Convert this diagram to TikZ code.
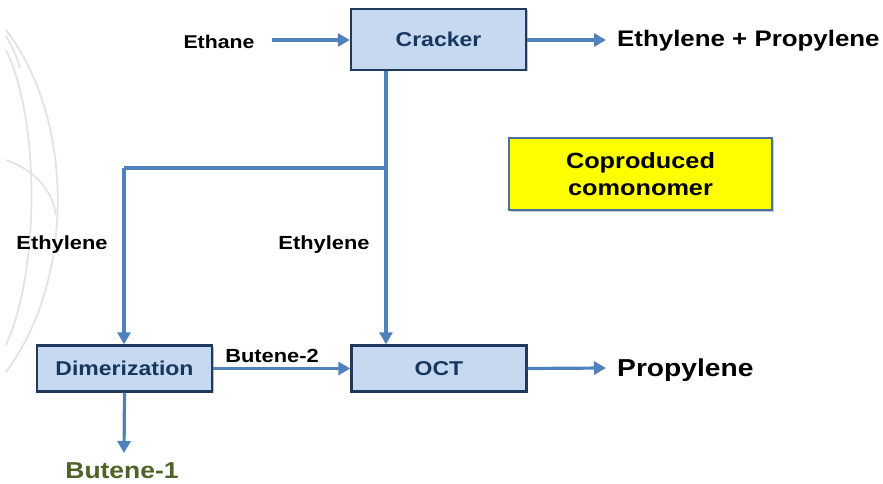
\documentclass[tikz,border=0pt]{standalone}
\usepackage{fontspec}
\setmainfont{Liberation Sans}[FakeStretch=1.15]
\usetikzlibrary{arrows.meta,shadows}
\definecolor{flow}{HTML}{4F81BD}
\definecolor{boxfill}{HTML}{C6D9F1}
\definecolor{boxedge}{HTML}{1F3A5C}
\definecolor{boxtext}{HTML}{17375E}
\definecolor{olive}{HTML}{4F6228}
\definecolor{note}{HTML}{FFFF00}
\definecolor{noteedge}{HTML}{4A6E9E}
\tikzset{
  unitbox/.style={draw=boxedge, line width=2.4pt, fill=boxfill,
    minimum width=175pt, minimum height=46pt, inner sep=0pt,
    text=boxtext, font=\bfseries\fontsize{20}{22}\selectfont,
    drop shadow={shadow xshift=1.5pt, shadow yshift=-1.5pt, opacity=0.5}},
  notebox/.style={draw=noteedge, line width=2.4pt, fill=note,
    minimum width=263pt, minimum height=72pt, inner sep=0pt, align=center,
    font=\bfseries\fontsize{22}{27}\selectfont,
    drop shadow={shadow xshift=2pt, shadow yshift=-2pt, opacity=0.4}},
  flowline/.style={draw=flow, line width=3.2pt},
  flowarrow/.style={flowline, -{Triangle[length=12pt,width=13pt]}},
  lbl/.style={font=\bfseries\fontsize{19}{22}\selectfont, inner sep=0pt},
  arc/.style={draw=gray!22, line width=1.8pt}
}
\begin{document}
\begin{tikzpicture}[x=1pt,y=-1pt]
\useasboundingbox (0,0) rectangle (883,484);
% faint background sweeps
\draw[arc] (6,30) .. controls (75,120) and (75,280) .. (6,372);
\draw[arc] (6,50) .. controls (40,120) and (40,270) .. (6,345);
\draw[arc] (6,160) .. controls (35,170) and (52,190) .. (56,215);
\draw[arc] (6,36) .. controls (14,50) and (18,60) .. (20,68);

% process units
\node[unitbox, minimum height=61pt] (cracker) at (438.5,39.5) {Cracker};
\node[unitbox] (dimer) at (124.5,368.5) {Dimerization};
\node[unitbox] (oct) at (439,368.5) {OCT};
\node[notebox] (note) at (640.5,174) {Coproduced\\comonomer};

% stream labels
\node[lbl, font=\bfseries\fontsize{18.5}{22}\selectfont] (ethane) at (219,42) {Ethane};
\node[lbl, anchor=west, font=\bfseries\fontsize{22.5}{26}\selectfont] (ep) at (617,41) {Ethylene + Propylene};
\node[lbl] (eth1) at (62,244.5) {Ethylene};
\node[lbl] (eth2) at (324,244.5) {Ethylene};
\node[lbl] (but2) at (272,356) {Butene-2};
\node[lbl, anchor=west, font=\bfseries\fontsize{24.5}{28}\selectfont] (prop) at (617,370) {Propylene};
\node[lbl, text=olive, font=\bfseries\fontsize{23}{26}\selectfont] (but1) at (122,471) {Butene-1};

% connectors
\coordinate (ethin) at (272,40);
\coordinate (epout) at (606,40);
\coordinate (split) at (386,168);
\coordinate (leftturn) at (124,168);
\coordinate (propout) at (606,368);
\coordinate (but1out) at (124,453);

\draw[flowarrow] (ethin) -- (ethin -| cracker.west);
\draw[flowarrow] (cracker.east |- epout) -- (epout);
\draw[flowarrow] (split |- cracker.south) -- (split |- oct.north);
\draw[flowline] (split) -- (leftturn);
\draw[flowarrow] (leftturn) -- (leftturn |- dimer.north);
\draw[flowarrow] (dimer.east) -- (oct.west);
\draw[flowarrow] (oct.east) -- (propout);
\draw[flowarrow] (dimer.south) -- (but1out);
\end{tikzpicture}
\end{document}
